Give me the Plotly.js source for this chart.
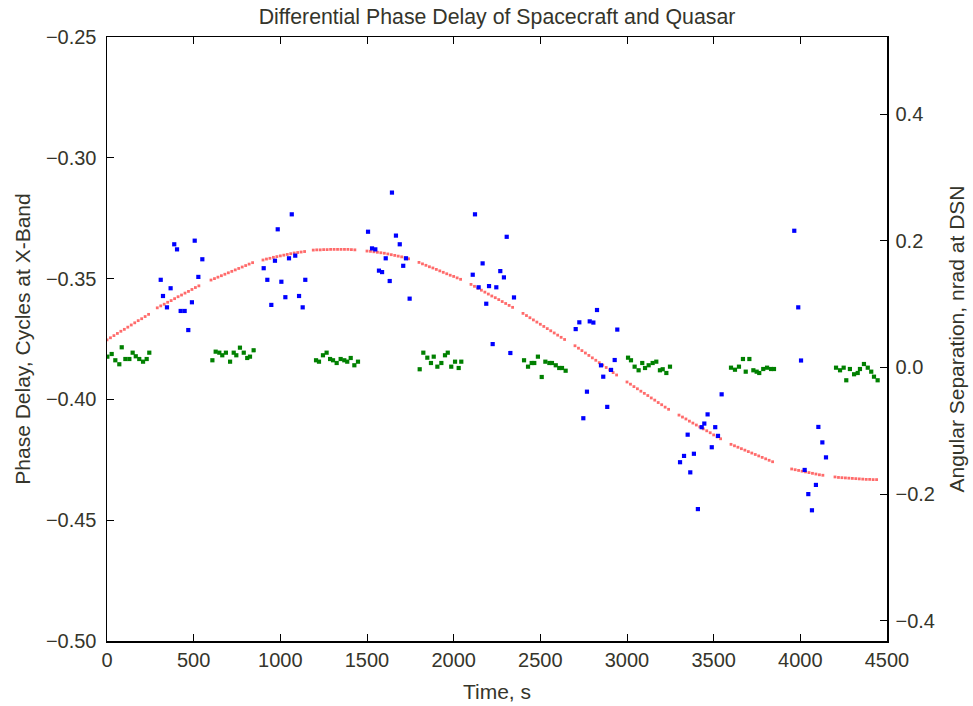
<!DOCTYPE html>
<html>
<head>
<meta charset="utf-8">
<script src="https://cdn.plot.ly/plotly-3.0.1.min.js"></script>
<style>html,body{margin:0;padding:0;background:#fff;}#chart{width:973px;height:706px;}</style>
</head>
<body>
<div id="chart"></div>
<script>
// Spacecraft phase delay (cycles at X-band), left axis
const scTime = [
  310,323,346,367,388,404,425,448,469,490,506,527,550,
  904,925,948,969,985,1006,1029,1050,1066,1086,1108,1129,1144,
  1506,1529,1548,1569,1587,1608,1631,1644,1667,1689,1709,1725,1746,
  2110,2123,2144,2167,2188,2204,2225,2246,2269,2290,2306,2327,2348,
  2704,2725,2748,2769,2785,2806,2827,2850,2863,2886,2908,2929,2944,
  3306,3329,3350,3365,3386,3409,3431,3446,3465,3489,3509,3525,3546,
  3965,3988,4004,4025,4046,4067,4090,4104,4127,4148
];
const scDelay = [
  -0.3505,-0.3572,-0.3619,-0.3540,-0.3358,-0.3379,-0.3634,-0.3634,-0.3713,-0.3598,-0.3343,-0.3493,-0.3420,
  -0.3457,-0.3505,-0.3609,-0.3426,-0.3296,-0.3513,-0.3577,-0.3416,-0.3234,-0.3405,-0.3572,-0.3619,-0.3505,
  -0.3306,-0.3375,-0.3379,-0.3467,-0.3473,-0.3416,-0.3510,-0.3144,-0.3322,-0.3358,-0.3447,-0.3416,-0.3583,
  -0.3484,-0.3234,-0.3536,-0.3437,-0.3604,-0.3531,-0.3771,-0.3536,-0.3469,-0.3495,-0.3327,-0.3808,-0.3578,
  -0.3709,-0.3681,-0.4078,-0.3968,-0.3677,-0.3682,-0.3630,-0.3859,-0.3906,-0.4031,-0.3878,-0.3837,-0.3711,
  -0.4260,-0.4234,-0.4146,-0.4302,-0.4225,-0.4454,-0.4115,-0.4100,-0.4062,-0.4198,-0.4115,-0.4151,-0.3979,
  -0.3302,-0.3619,-0.3839,-0.4292,-0.4392,-0.4459,-0.4354,-0.4114,-0.4178,-0.4240
];

// Quasar angular separation (nrad at DSN), right axis
const qTime = [
  2,27,48,71,85,106,129,148,166,186,208,229,244,
  608,627,648,665,686,710,731,746,767,789,809,825,846,
  1206,1223,1246,1267,1287,1304,1325,1348,1369,1386,1406,1427,1448,
  1804,1825,1848,1869,1885,1906,1929,1950,1966,1986,2008,2029,2044,
  2406,2429,2450,2465,2486,2508,2529,2552,2567,2589,2609,2625,2646,
  3006,3023,3044,3067,3088,3104,3125,3148,3169,3190,3206,3227,3248,
  3600,3623,3646,3669,3685,3706,3729,3748,3763,3786,3808,3831,3848,
  4206,4229,4250,4265,4286,4310,4331,4344,4367,4389,4409,4425,4446
];
const qSep = [
  0.0171,0.0213,0.0114,0.0051,0.0319,0.0134,0.0134,0.0234,0.0177,0.0134,0.0092,0.0134,0.0234,
  0.0114,0.0250,0.0234,0.0193,0.0234,0.0092,0.0234,0.0193,0.0313,0.0234,0.0150,0.0171,0.0272,
  0.0114,0.0092,0.0193,0.0234,0.0134,0.0114,0.0071,0.0134,0.0114,0.0092,0.0150,0.0035,0.0092,
  -0.0028,0.0234,0.0155,0.0071,0.0171,0.0013,0.0071,0.0193,0.0234,0.0013,0.0092,-0.0008,0.0092,
  0.0114,0.0013,0.0071,0.0071,0.0171,-0.0150,0.0092,0.0071,0.0071,0.0035,-0.0008,-0.0008,-0.0051,
  0.0155,0.0114,0.0013,-0.0044,0.0071,-0.0008,0.0035,0.0071,0.0092,-0.0044,-0.0028,-0.0087,0.0013,
  -0.0003,-0.0035,0.0013,0.0134,-0.0066,0.0134,-0.0044,-0.0066,-0.0087,-0.0024,-0.0003,-0.0024,-0.0024,
  -0.0003,-0.0044,-0.0003,-0.0202,-0.0024,-0.0107,-0.0087,-0.0024,0.0055,-0.0003,-0.0066,-0.0145,-0.0202
];

// Model phase delay (cycles), left axis
const modelTime = [
  0,20,40,60,80,100,120,140,160,180,200,220,240,
  290,310,330,350,370,390,410,430,450,470,490,510,530,
  600,620,640,660,680,700,720,740,760,780,800,820,840,
  900,920,940,960,980,1000,1020,1040,1060,1080,1100,1120,1140,
  1190,1210,1230,1250,1270,1290,1310,1330,1350,1370,1390,1410,1430,
  1500,1520,1540,1560,1580,1600,1620,1640,1660,1680,1700,1720,1740,
  1800,1820,1840,1860,1880,1900,1920,1940,1960,1980,2000,2020,2040,
  2100,2120,2140,2160,2180,2200,2220,2240,2260,2280,2300,2320,2340,
  2400,2420,2440,2460,2480,2500,2520,2540,2560,2580,2600,2620,2640,
  2700,2720,2740,2760,2780,2800,2820,2840,2860,2880,2900,2920,2940,
  3000,3020,3040,3060,3080,3100,3120,3140,3160,3180,3200,3220,3240,
  3300,3320,3340,3360,3380,3400,3420,3440,3460,3480,3500,3520,3540,
  3600,3620,3640,3660,3680,3700,3720,3740,3760,3780,3800,3820,3840,
  3950,3970,3990,4010,4030,4050,4070,4090,4110,4130,
  4200,4220,4240,4260,4280,4300,4320,4340,4360,4380,4400,4420,4440
];
const modelDelay = [
  -0.3754,-0.3745,-0.3736,-0.3727,-0.3718,-0.3710,-0.3701,-0.3692,-0.3683,-0.3674,-0.3666,-0.3657,-0.3648,
  -0.3621,-0.3613,-0.3606,-0.3598,-0.3591,-0.3583,-0.3575,-0.3568,-0.3560,-0.3553,-0.3545,-0.3537,-0.3530,
  -0.3506,-0.3500,-0.3494,-0.3488,-0.3482,-0.3476,-0.3470,-0.3464,-0.3458,-0.3452,-0.3446,-0.3440,-0.3434,
  -0.3423,-0.3419,-0.3416,-0.3412,-0.3409,-0.3406,-0.3403,-0.3400,-0.3397,-0.3394,-0.3392,-0.3390,-0.3388,
  -0.3382,-0.3381,-0.3381,-0.3380,-0.3380,-0.3379,-0.3379,-0.3379,-0.3379,-0.3379,-0.3379,-0.3380,-0.3381,
  -0.3386,-0.3387,-0.3389,-0.3391,-0.3393,-0.3395,-0.3398,-0.3401,-0.3404,-0.3407,-0.3410,-0.3414,-0.3418,
  -0.3433,-0.3439,-0.3445,-0.3451,-0.3456,-0.3462,-0.3468,-0.3474,-0.3480,-0.3486,-0.3491,-0.3497,-0.3503,
  -0.3524,-0.3532,-0.3540,-0.3548,-0.3556,-0.3564,-0.3572,-0.3579,-0.3587,-0.3595,-0.3603,-0.3611,-0.3619,
  -0.3644,-0.3653,-0.3662,-0.3671,-0.3680,-0.3689,-0.3698,-0.3707,-0.3716,-0.3725,-0.3734,-0.3743,-0.3752,
  -0.3778,-0.3788,-0.3798,-0.3808,-0.3818,-0.3828,-0.3838,-0.3848,-0.3858,-0.3868,-0.3878,-0.3889,-0.3899,
  -0.3928,-0.3937,-0.3947,-0.3956,-0.3966,-0.3975,-0.3984,-0.3994,-0.4003,-0.4013,-0.4022,-0.4032,-0.4041,
  -0.4065,-0.4073,-0.4081,-0.4090,-0.4098,-0.4106,-0.4114,-0.4122,-0.4130,-0.4138,-0.4147,-0.4155,-0.4163,
  -0.4186,-0.4192,-0.4198,-0.4204,-0.4210,-0.4216,-0.4222,-0.4228,-0.4234,-0.4240,-0.4246,-0.4252,-0.4258,
  -0.4288,-0.4291,-0.4294,-0.4297,-0.4300,-0.4303,-0.4306,-0.4309,-0.4312,-0.4314,
  -0.4321,-0.4323,-0.4324,-0.4325,-0.4326,-0.4327,-0.4328,-0.4329,-0.4330,-0.4331,-0.4331,-0.4332,-0.4332
];

const xTicks = [0,500,1000,1500,2000,2500,3000,3500,4000,4500];
const leftTicks = [-0.50,-0.45,-0.40,-0.35,-0.30,-0.25];
const rightTicks = [-0.4,-0.2,0.0,0.2,0.4];

const textColor = '#35352b';
const fontFamily = '"Liberation Sans", Arial, Helvetica, sans-serif';

const traces = [
  {x: qTime, y: qSep, yaxis: 'y2', type: 'scatter', mode: 'markers', name: 'Quasar',
   marker: {symbol: 'square', size: 4.2, color: '#008000', line: {width: 0}}},
  {x: modelTime, y: modelDelay, yaxis: 'y', type: 'scatter', mode: 'markers', name: 'Model',
   marker: {symbol: 'square', size: 2.8, color: 'rgba(255,50,50,0.72)', line: {width: 0}}},
  {x: scTime, y: scDelay, yaxis: 'y', type: 'scatter', mode: 'markers', name: 'Spacecraft',
   marker: {symbol: 'square', size: 4.2, color: '#0000ff', line: {width: 0}}}
];

const axisCommon = {
  ticks: 'inside', ticklen: 7, tickwidth: 1, tickcolor: '#000',
  showline: true, linecolor: '#000', linewidth: 1.5,
  showgrid: false, zeroline: false,
  tickfont: {family: fontFamily, size: 20, color: textColor}
};

const layout = {
  width: 973, height: 706,
  margin: {l: 107, r: 86, t: 37, b: 65, pad: 0},
  paper_bgcolor: '#ffffff', plot_bgcolor: '#ffffff',
  showlegend: false,
  font: {family: fontFamily, size: 20, color: textColor},
  title: {text: 'Differential Phase Delay of Spacecraft and Quasar',
          x: 0.5, xref: 'paper', xanchor: 'center',
          y: 1 - 17/706, yref: 'container', yanchor: 'middle',
          font: {family: fontFamily, size: 21.3, color: textColor}},
  xaxis: Object.assign({}, axisCommon, {
    range: [0, 4500], tickvals: xTicks, mirror: 'ticks', ticklabelstandoff: 0,
    title: {text: 'Time, s', standoff: 15, font: {family: fontFamily, size: 21, color: textColor}}
  }),
  yaxis: Object.assign({}, axisCommon, {
    range: [-0.5, -0.25], tickvals: leftTicks, tickformat: '.2f', ticklabelstandoff: 5,
    title: {text: 'Phase Delay, Cycles at X-Band', standoff: 9, font: {family: fontFamily, size: 21, color: textColor}}
  }),
  yaxis2: Object.assign({}, axisCommon, {
    overlaying: 'y', side: 'right', anchor: 'x',
    range: [-0.432, 0.522], tickvals: rightTicks, tickformat: '.1f', ticklabelstandoff: 3,
    title: {text: 'Angular Separation, nrad at DSN', standoff: 15, font: {family: fontFamily, size: 21, color: textColor}}
  })
};

Plotly.newPlot('chart', traces, layout, {staticPlot: true, displayModeBar: false});
</script>
</body>
</html>
